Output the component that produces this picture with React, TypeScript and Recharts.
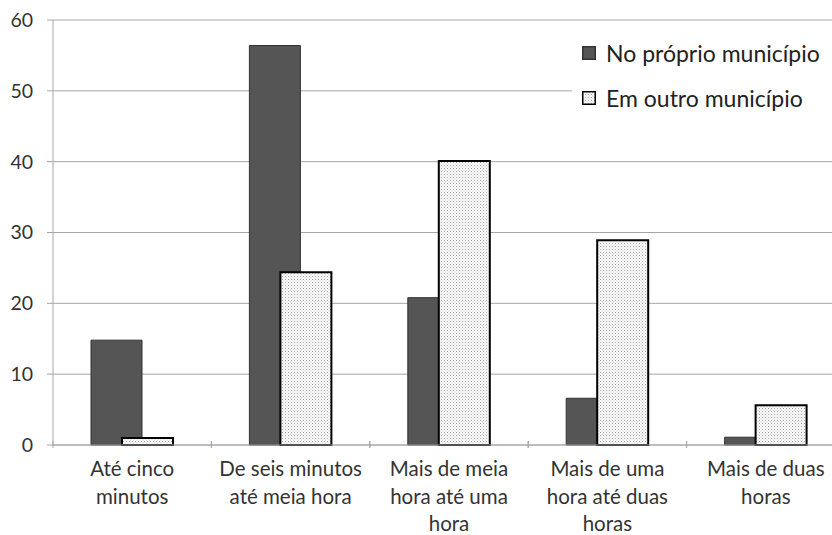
import React from 'react';
import { BarChart, Bar, XAxis, YAxis, CartesianGrid, Legend } from 'recharts';

const categories = ['Até cinco minutos', 'De seis minutos até meia hora', 'Mais de meia hora até uma hora', 'Mais de uma hora até duas horas', 'Mais de duas horas'];
const categoryLines = [
  ['Até cinco', 'minutos'],
  ['De seis minutos', 'até meia hora'],
  ['Mais de meia', 'hora até uma', 'hora'],
  ['Mais de uma', 'hora até duas', 'horas'],
  ['Mais de duas', 'horas'],
];
const proprio = [14.8, 56.4, 20.8, 6.6, 1.1];
const outro = [1.0, 24.4, 40.1, 28.9, 5.6];
const yTicks = [0, 10, 20, 30, 40, 50, 60];

const series = [
  { key: 'proprio', name: 'No próprio município' },
  { key: 'outro', name: 'Em outro município' },
];

const data = categories.map((c, i) => ({ name: c, proprio: proprio[i], outro: outro[i] }));

const CHART_W = 846;
const CHART_H = 535;
const Y_W = 53;
const RIGHT = 1;
const BAND = (CHART_W - Y_W - RIGHT) / categories.length;
const FONT = 'Lato, "Open Sans", sans-serif';
const GRAY = '#a6a6a6';
const TEXT = '#333333';

const XTick = (props: any) => {
  const { x, y, index } = props;
  const lines = categoryLines[index] || [];
  const base = y - 12;
  return (
    <g>
      <line x1={x - BAND / 2} x2={x - BAND / 2} y1={base} y2={base + 7} stroke={GRAY} />
      <line x1={x + BAND / 2} x2={x + BAND / 2} y1={base} y2={base + 7} stroke={GRAY} />
      <text x={x} y={base} textAnchor="middle" fill={TEXT} fontSize={20.5} fontFamily={FONT}>
        {lines.map((l, i) => (
          <tspan key={i} x={x} y={base + 35 + i * 27.5}>{l}</tspan>
        ))}
      </text>
    </g>
  );
};

const Swatch = ({ pattern }: { pattern: boolean }) => (
  <svg width={14} height={14} style={{ marginRight: 10, flex: 'none' }}>
    <defs>
      <pattern id="legendDots" width="3" height="3" patternUnits="userSpaceOnUse">
        <rect width="3" height="3" fill="#ffffff" />
        <rect width="1" height="1" fill="#a0a0a0" />
        <rect x="1.5" y="1.5" width="1" height="1" fill="#bdbdbd" />
      </pattern>
    </defs>
    <rect x={0.75} y={0.75} width={12.5} height={12.5} fill={pattern ? 'url(#legendDots)' : '#555555'} stroke={pattern ? '#000' : '#333333'} strokeWidth={1.5} />
  </svg>
);

const LegendBox = () => (
  <div style={{ background: '#fff', width: '100%', height: '100%', paddingLeft: 10, boxSizing: 'border-box', fontFamily: FONT, fontSize: 23, color: '#222222' }}>
    {series.map((s, i) => (
      <div key={s.key} style={{ display: 'flex', alignItems: 'center', height: 45 }}>
        <Swatch pattern={i === 1} />
        <span>{s.name}</span>
      </div>
    ))}
  </div>
);

export default function App() {
  return (
    <div style={{ position: 'absolute', left: 0, top: 0, width: 832, height: 535, overflow: 'hidden', background: '#fff' }}>
      <BarChart width={CHART_W} height={CHART_H} data={data} margin={{ top: 20, right: RIGHT, bottom: 0, left: 0 }} barSize={51} barGap={-20}>
        <defs>
          <pattern id="dots" width="3" height="3" patternUnits="userSpaceOnUse">
            <rect width="3" height="3" fill="#ffffff" />
            <rect width="1" height="1" fill="#a0a0a0" />
            <rect x="1.5" y="1.5" width="1" height="1" fill="#bdbdbd" />
          </pattern>
        </defs>
        <CartesianGrid vertical={false} stroke={GRAY} strokeWidth={1} />
        <XAxis dataKey="name" height={90} axisLine={{ stroke: GRAY }} tickLine={false} tick={<XTick />} interval={0} />
        <YAxis
          width={Y_W}
          domain={[0, 60]}
          ticks={yTicks}
          axisLine={{ stroke: GRAY }}
          tickLine={{ stroke: GRAY }}
          tickSize={6}
          tickMargin={14}
          tick={{ fill: TEXT, fontSize: 19.5, fontFamily: FONT }}
        />
        <Legend
          content={<LegendBox />}
          verticalAlign="middle"
          wrapperStyle={{ left: 572, top: 30, width: 274, height: 90 }}
        />
        <Bar dataKey="proprio" name="No próprio município" fill="#555555" stroke="#333333" strokeWidth={1} isAnimationActive={false} />
        <Bar dataKey="outro" name="Em outro município" fill="url(#dots)" stroke="#000" strokeWidth={2} isAnimationActive={false} />
      </BarChart>
    </div>
  );
}
